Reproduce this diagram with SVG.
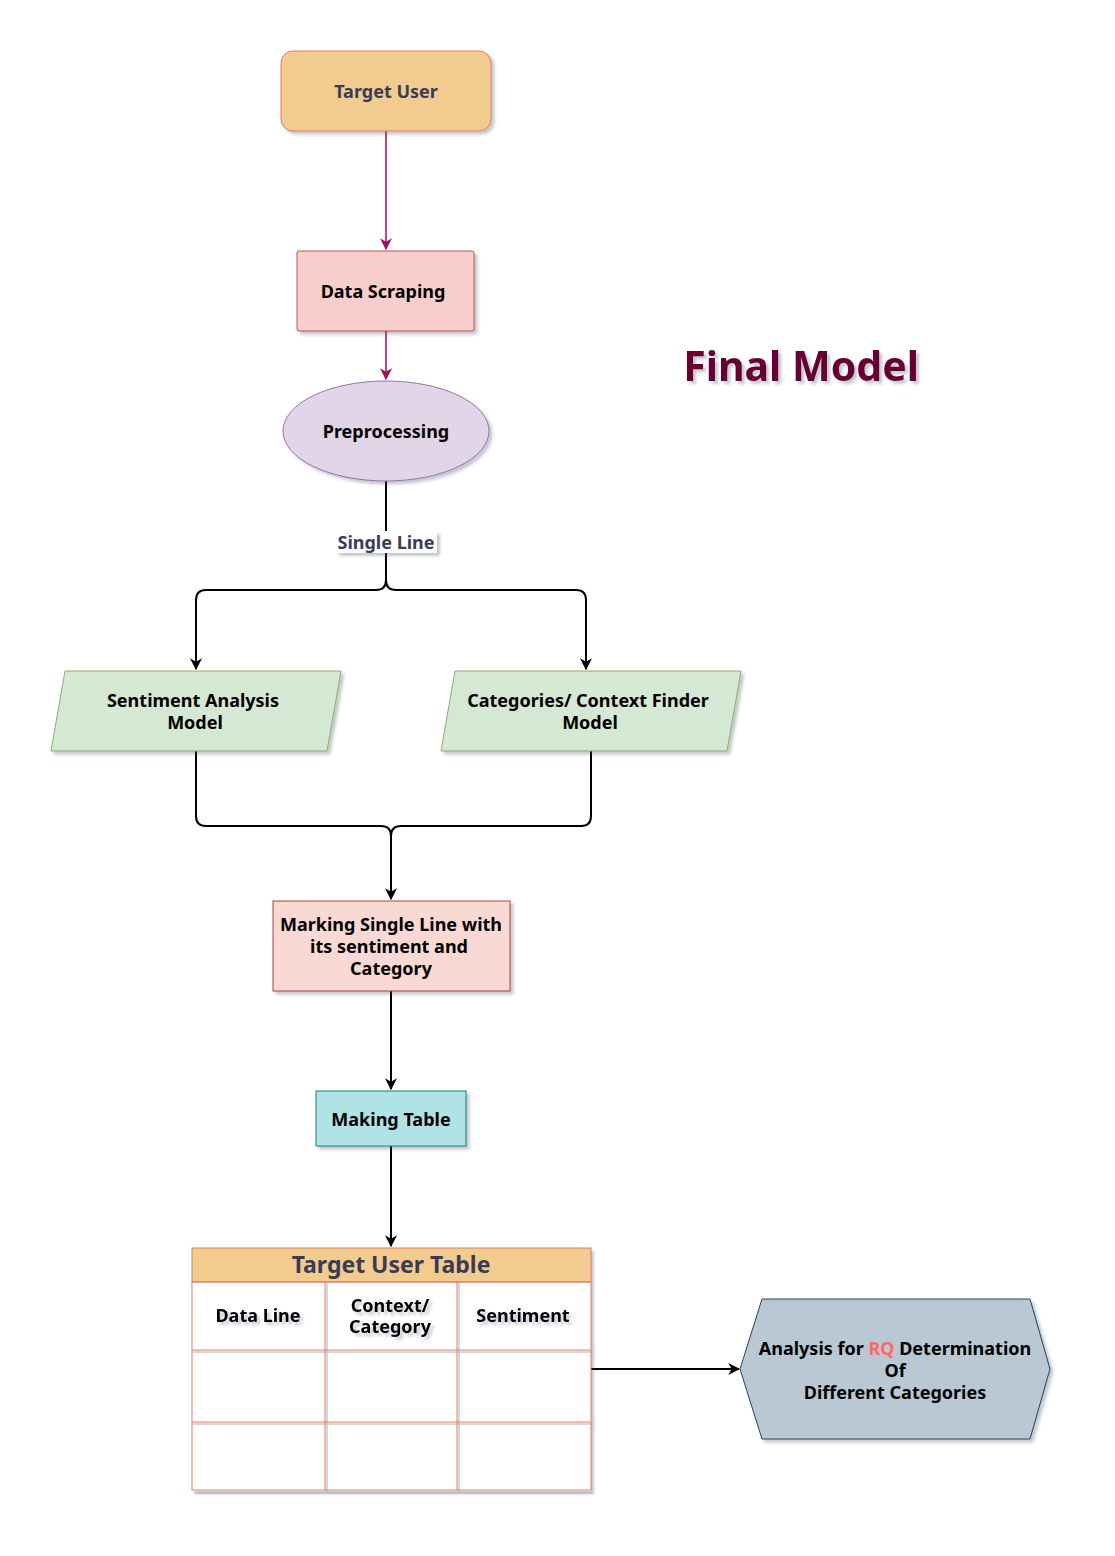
<svg xmlns="http://www.w3.org/2000/svg" width="1115" height="1556" viewBox="0 0 1115 1556">
<defs>
<filter id="sh" x="-10%" y="-10%" width="130%" height="130%">
<feDropShadow dx="3" dy="3" stdDeviation="1.5" flood-color="#3c4664" flood-opacity="0.3"/>
</filter>
<marker id="am" viewBox="0 0 10 10" refX="9" refY="5" markerWidth="12" markerHeight="12" markerUnits="userSpaceOnUse" orient="auto"><path d="M0,0 L10,5 L0,10 L3,5 Z" fill="#A50F5A"/></marker>
<marker id="ab" viewBox="0 0 10 10" refX="9" refY="5" markerWidth="12" markerHeight="12" markerUnits="userSpaceOnUse" orient="auto"><path d="M0,0 L10,5 L0,10 L3,5 Z" fill="#000"/></marker>
</defs>
<style>
text{font-family:"Noto Sans","DejaVu Sans",sans-serif;font-weight:bold;text-anchor:middle;}
.t{font-size:18px;fill:#000;}
.d{fill:#393C56;}
.cm{fill:none;stroke:#A50F5A;stroke-width:1.5;}
.cb{fill:none;stroke:#000;stroke-width:2;}
.tb{fill:none;stroke:#E07A5F;stroke-width:1;}
</style>
<rect width="1115" height="1556" fill="#fff"/>
<g id="connectors">
<path class="cm" d="M386,131 V249" marker-end="url(#am)"/>
<path class="cm" d="M386,331 V379" marker-end="url(#am)"/>
<path class="cb" d="M386,481 V580 Q386,590 376,590 H206 Q196,590 196,600 V669" marker-end="url(#ab)"/>
<path class="cb" d="M386,580 Q386,590 396,590 H576 Q586,590 586,600 V669" marker-end="url(#ab)"/>
<path class="cb" d="M196,751 V816 Q196,826 206,826 H381 Q391,826 391,836 V899" marker-end="url(#ab)"/>
<path class="cb" d="M591,751 V816 Q591,826 581,826 H401 Q391,826 391,836"/>
<path class="cb" d="M391,991 V1089" marker-end="url(#ab)"/>
<path class="cb" d="M391,1146 V1246" marker-end="url(#ab)"/>
<path class="cb" d="M591,1369 H739" marker-end="url(#ab)"/>
<rect x="336" y="531" width="101" height="22" fill="#fff" filter="url(#sh)"/>
<text x="386" y="549" class="d" font-size="18">Single Line</text>
</g>
<g id="target-user">
<rect x="281" y="51" width="210" height="80" rx="12" fill="#F2CC8F" stroke="#E07A5F" filter="url(#sh)"/>
<text x="386" y="98" class="t d">Target User</text>
</g>
<g id="data-scraping">
<rect x="297" y="251" width="177" height="80" rx="2" fill="#F8CECC" stroke="#B85450" filter="url(#sh)"/>
<text x="383" y="298" class="t">Data Scraping</text>
</g>
<g id="preprocessing">
<ellipse cx="386" cy="431" rx="103" ry="50" fill="#E1D5E7" stroke="#9673A6" filter="url(#sh)"/>
<text x="386" y="438" class="t">Preprocessing</text>
</g>
<g id="sentiment-model">
<polygon points="65,671 341,671 327,751 51,751" fill="#D5E8D4" stroke="#82B366" filter="url(#sh)"/>
<text x="193" y="707" class="t">Sentiment Analysis</text>
<text x="195" y="729" class="t">Model</text>
</g>
<g id="category-model">
<polygon points="455,671 741,671 727,751 441,751" fill="#D5E8D4" stroke="#82B366" filter="url(#sh)"/>
<text x="588" y="707" class="t">Categories/ Context Finder</text>
<text x="590" y="729" class="t">Model</text>
</g>
<g id="marking">
<rect x="273" y="901" width="237" height="90" fill="#FAD9D5" stroke="#AE4132" filter="url(#sh)"/>
<text x="391" y="931" class="t">Marking Single Line with</text>
<text x="389" y="953" class="t">its sentiment and</text>
<text x="391" y="975" class="t">Category</text>
</g>
<g id="making-table">
<rect x="316" y="1091" width="150" height="55" fill="#B0E3E6" stroke="#0E8088" filter="url(#sh)"/>
<text x="391" y="1126" class="t">Making Table</text>
</g>
<g id="target-user-table">
<rect x="192" y="1248" width="399" height="243" fill="#fff" filter="url(#sh)"/>
<rect x="192" y="1248" width="399" height="34" fill="#F2CC8F" stroke="#E07A5F"/>
<text x="391" y="1273" class="d" font-size="23">Target User Table</text>
<g stroke="#A8AEBE" stroke-width="1">
<line x1="193" y1="1352" x2="593" y2="1352"/>
<line x1="193" y1="1424" x2="593" y2="1424"/>
<line x1="327" y1="1283" x2="327" y2="1493"/>
<line x1="459" y1="1283" x2="459" y2="1493"/>
<line x1="194" y1="1493" x2="593" y2="1493"/>
</g>
<rect class="tb" x="192" y="1282" width="399" height="208"/>
<line class="tb" x1="192" y1="1350" x2="591" y2="1350"/>
<line class="tb" x1="192" y1="1422" x2="591" y2="1422"/>
<line class="tb" x1="325" y1="1282" x2="325" y2="1490"/>
<line class="tb" x1="457" y1="1282" x2="457" y2="1490"/>
<g filter="url(#sh)">
<text x="258" y="1322" class="t">Data Line</text>
<text x="390" y="1312" class="t">Context/</text>
<text x="390" y="1333" class="t">Category</text>
<text x="523" y="1322" class="t">Sentiment</text>
</g>
</g>
<g id="analysis">
<polygon points="740,1369 762,1299 1030,1299 1050,1369 1030,1439 762,1439" fill="#BAC8D3" stroke="#23445D" filter="url(#sh)"/>
<text x="895" y="1355" class="t">Analysis for <tspan fill="#FF6666">RQ</tspan> Determination</text>
<text x="895" y="1377" class="t">Of</text>
<text x="895" y="1399" class="t">Different Categories</text>
</g>
<g id="title">
<text x="801" y="381" font-size="41" fill="#660033" filter="url(#sh)">Final Model</text>
</g>
</svg>
